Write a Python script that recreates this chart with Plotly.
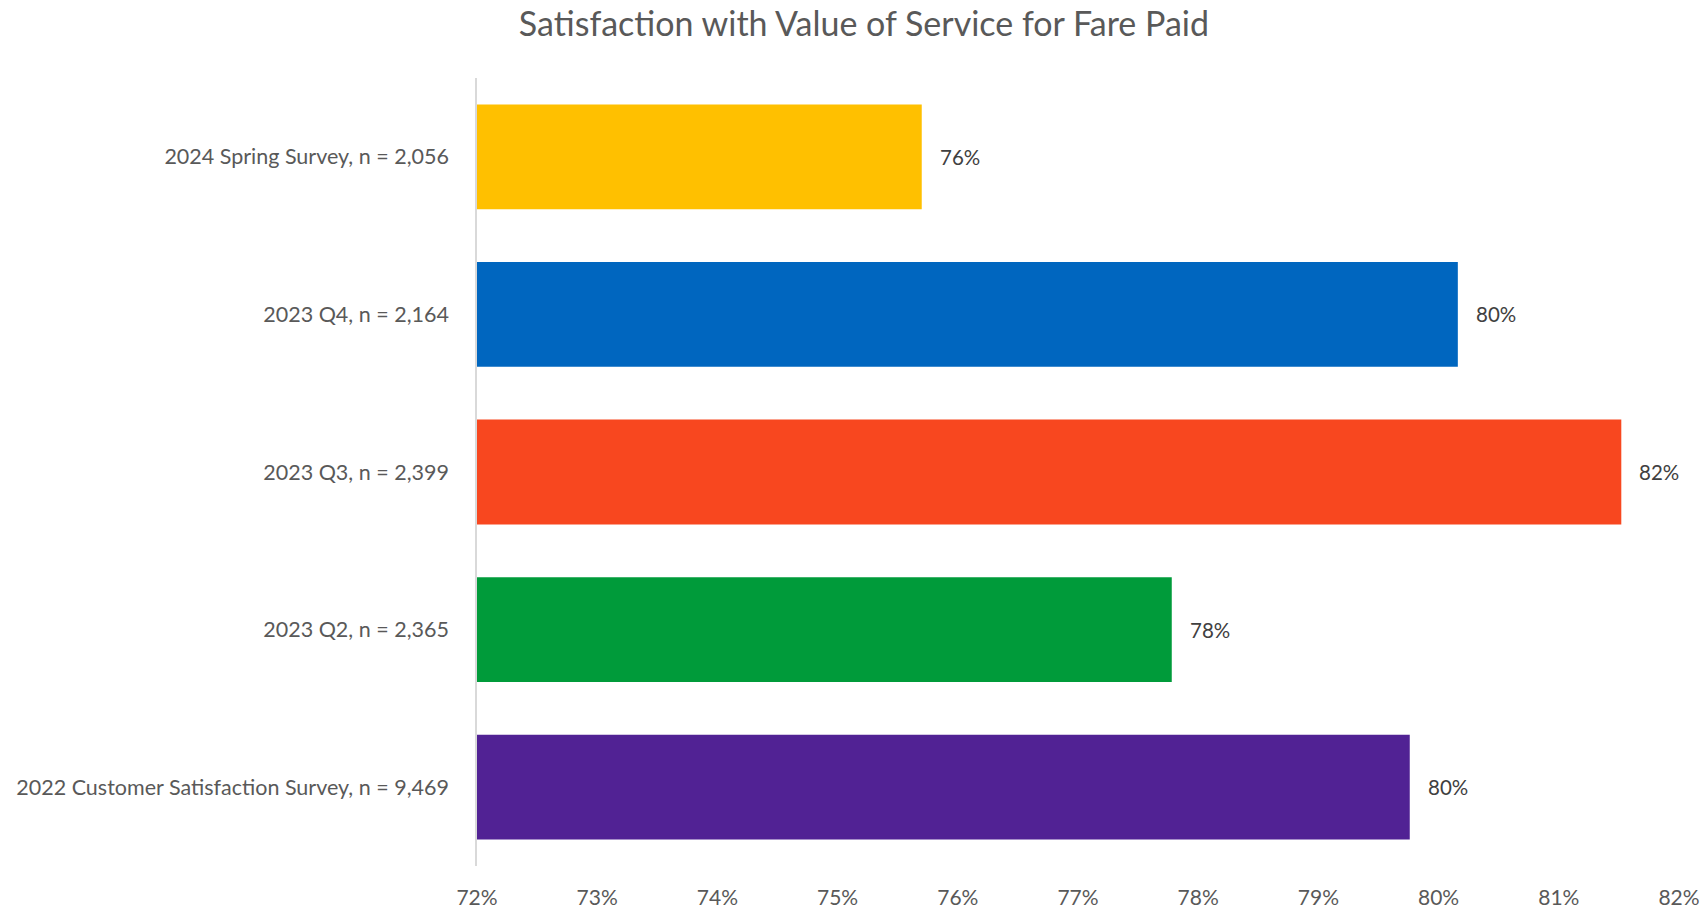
import plotly.graph_objects as go

# Survey waves, top to bottom
categories = [
    "2024 Spring Survey, n = 2,056",
    "2023 Q4, n = 2,164",
    "2023 Q3, n = 2,399",
    "2023 Q2, n = 2,365",
    "2022 Customer Satisfaction Survey, n = 9,469",
]
# Share satisfied with value of service for fare paid
satisfaction = [0.757, 0.8016, 0.8152, 0.7778, 0.7976]
bar_colors = ["#FFC000", "#0066BF", "#F8471F", "#009B3A", "#512294"]
tick_values = [0.72, 0.73, 0.74, 0.75, 0.76, 0.77, 0.78, 0.79, 0.80, 0.81, 0.82]

FONT = "Lato, 'Open Sans', sans-serif"

fig = go.Figure(
    go.Bar(
        x=satisfaction,
        y=categories,
        orientation="h",
        marker=dict(color=bar_colors, line=dict(width=0)),
        base=0,
        hoverinfo="x+y",
    )
)

# Value labels to the right of each bar
for cat, val in zip(categories, satisfaction):
    fig.add_annotation(
        x=val, y=cat, text=f"{val:.0%}", showarrow=False,
        xanchor="left", xshift=16,
        font=dict(family=FONT, size=20.5, color="#404040"),
    )

fig.update_layout(
    width=1704, height=911,
    paper_bgcolor="white", plot_bgcolor="white",
    margin=dict(l=477, r=25, t=78, b=45, autoexpand=False),
    bargap=0.335,
    showlegend=False,
    title=dict(
        text="Satisfaction with Value of Service for Fare Paid",
        x=0.507, xanchor="center", y=0.974, yanchor="middle",
        font=dict(family=FONT, size=34, color="#595959"),
    ),
    xaxis=dict(
        range=[0.72, 0.82],
        tickvals=tick_values,
        tickformat=".0%",
        showgrid=False, zeroline=False, showline=False,
        ticks="", ticklabelstandoff=17, automargin=False,
        tickfont=dict(family=FONT, size=21, color="#595959"),
    ),
    yaxis=dict(
        autorange="reversed",
        showgrid=False, zeroline=False,
        showline=True, linecolor="#D9D9D9", linewidth=1.5,
        ticks="", ticklabelstandoff=22, automargin=False,
        tickfont=dict(family=FONT, size=21.5, color="#595959"),
    ),
)

fig.write_html("out.html")
